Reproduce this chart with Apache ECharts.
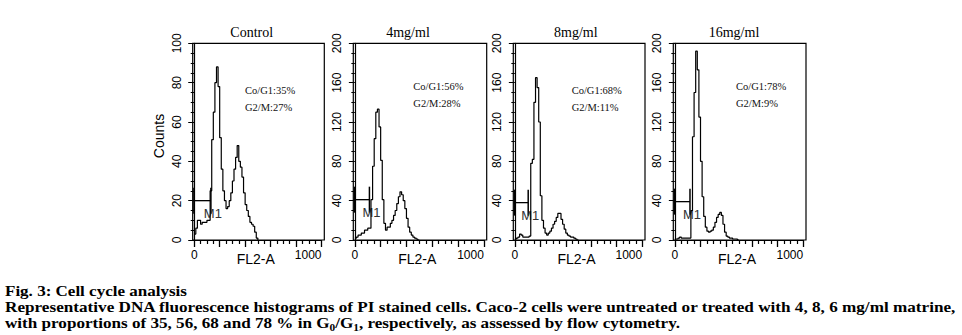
<!DOCTYPE html>
<html><head><meta charset="utf-8">
<script src="https://cdn.jsdelivr.net/npm/echarts@6/dist/echarts.min.js"></script>
<style>html,body{margin:0;padding:0;background:#fff}#c{width:962px;height:335px}</style>
</head><body><div id="c"></div>
<script>
// ---------- data ----------
const panelTitles = ['Control', '4mg/ml', '8mg/ml', '16mg/ml'];
const g1Labels = ['Co/G1:35%', 'Co/G1:56%', 'Co/G1:68%', 'Co/G1:78%'];
const g2mLabels = ['G2/M:27%', 'G2/M:28%', 'G2/M:11%', 'G2/M:9%'];
const yAxisName = 'Counts';
const xAxisName = 'FL2-A';
const yMax = [100, 200, 200, 200];
const yStep = [20, 40, 40, 40];
const xTickLabels = [0, 1000];
const xMax = 1000, xStep = 200;
// histogram bin left edges (FL2-A channel)
const channels = [0, 12.5, 25, 37.5, 50, 62.5, 75, 87.5, 100, 112.5, 125, 137.5, 150, 162.5, 175, 187.5, 200, 212.5, 225, 237.5, 250, 262.5, 275, 287.5, 300, 312.5, 325, 337.5, 350, 362.5, 375, 387.5, 400, 412.5, 425, 437.5, 450, 462.5, 475, 487.5, 500];
const countsControl = [3, 6, 10, 10, 8, 9, 9, 9, 10, 10, 25, 51, 65, 80, 88, 78, 52, 36, 25, 20, 16, 17, 20, 24, 30, 36, 42, 48, 40, 37, 32, 24, 18, 15, 12, 9, 8, 7, 4, 1, 0];
const counts4 = [2, 3, 5, 5, 7, 7, 10, 10, 12, 12, 41, 75, 103, 130, 133, 115, 81, 41, 17, 10, 13, 13, 17, 20, 25, 30, 37, 44, 49, 46, 40, 32, 22, 13, 8, 5, 3, 2, 1, 0, 0];
const counts8 = [1, 2, 3, 6, 5, 3, 3, 3, 3, 4, 78, 82, 140, 165, 155, 120, 45, 20, 12, 7, 5, 7, 9, 12, 16, 19, 23, 27, 27, 21, 16, 11, 7, 5, 4, 3, 3, 2, 1, 0, 0];
const counts16 = [1, 1, 2, 3, 2, 2, 2, 2, 2, 2, 30, 105, 150, 192, 173, 125, 80, 44, 24, 13, 9, 8, 9, 10, 13, 18, 23, 26, 28, 25, 16, 8, 4, 3, 2, 2, 1, 1, 1, 0, 0];
const gateName = 'M1';
const gateStart = [-8, -8, -8, -8];
const gateEnd = [131, 113, 105, 118];
const gateLevel = [20, 41, 38, 39];
const captionTitle = 'Fig. 3: Cell cycle analysis';
const captionLine2 = 'Representative DNA fluorescence histograms of PI stained cells. Caco-2 cells were untreated or treated with 4, 8, 6 mg/ml matrine,';
const captionLine3 = [['with proportions of 35, 56, 68 and 78 % in G', 0], ['0', 1], ['/G', 0], ['1', 1], [', respectively, as assessed by flow cytometry.', 0]];

// ---------- layout ----------
const allCounts = [countsControl, counts4, counts8, counts16];
const boxLeft = [192.7, 353.3, 513.3, 673.3];
const boxWidth = [131.6, 133.4, 131.7, 132.7];
const boxTop = 43.3, boxHeight = 196.7;
const padUnits = 12, spanUnits = 1034;   // box spans channel -12 .. 1022
const titleX = [251.7, 408, 575.8, 734];
const annX = [245, 413.3, 571.7, 736];
const annY1 = [90, 86.7, 90, 86.7];
const annY2 = [107, 103.7, 107, 103.7];

const chart = echarts.init(document.getElementById('c'), null, {renderer: 'svg'});
const grids = [], xAxes = [], yAxes = [], series = [], graphics = [];
const SANS = '"Liberation Sans", Arial, sans-serif';
const SERIF = '"Liberation Serif", "Times New Roman", serif';

for (let i = 0; i < 4; i++) {
  const pxPerUnit = boxWidth[i] / spanUnits;
  const gLeft = boxLeft[i] + padUnits * pxPerUnit;
  grids.push({left: gLeft, top: boxTop, width: xMax * pxPerUnit, height: boxHeight, show: false});
  graphics.push({type: 'rect', silent: true, z: 10,
    shape: {x: boxLeft[i], y: boxTop, width: boxWidth[i], height: boxHeight},
    style: {fill: 'none', stroke: '#000', lineWidth: 1.2}});
  xAxes.push({type: 'value', gridIndex: i, min: 0, max: xMax, interval: xStep,
    axisLine: {show: true, lineStyle: {color: '#000', width: 1.2}},
    axisTick: {show: true, length: 7, lineStyle: {color: '#000', width: 1.3}},
    minorTick: {show: true, splitNumber: 4, length: 4, lineStyle: {color: '#000', width: 1.2}},
    axisLabel: {show: true, showMinLabel: true, showMaxLabel: true,
      formatter: function (v) { return xTickLabels.indexOf(v) >= 0 ? String(v) : ''; },
      fontFamily: SANS, fontSize: 12, color: '#000', margin: 9, alignMaxLabel: 'right'},
    splitLine: {show: false}, minorSplitLine: {show: false}});
  yAxes.push({type: 'value', gridIndex: i, min: 0, max: yMax[i], interval: yStep[i], offset: padUnits * pxPerUnit,
    axisLine: {show: true, lineStyle: {color: '#000', width: 1.2}},
    axisTick: {show: true, length: 6, lineStyle: {color: '#000', width: 1}},
    minorTick: {show: true, splitNumber: 4, length: 3.5, lineStyle: {color: '#000', width: 1}},
    axisLabel: {rotate: 90, fontFamily: SANS, fontSize: 12, color: '#000', margin: 10},
    splitLine: {show: false}, minorSplitLine: {show: false}});
  series.push({type: 'line', xAxisIndex: i, yAxisIndex: i, step: 'end', symbol: 'none',
    lineStyle: {color: '#000', width: 1.2}, data: channels.map((c, k) => [c, allCounts[i][k]]), silent: true});
  series.push({type: 'custom', xAxisIndex: i, yAxisIndex: i, silent: true, clip: false,
    data: [[gateStart[i], gateEnd[i], gateLevel[i]]],
    renderItem: function (params, api) {
      const p0 = api.coord([api.value(0), api.value(2)]);
      const p1 = api.coord([api.value(1), api.value(2)]);
      const h = 13;
      return {type: 'group', children: [
        {type: 'line', shape: {x1: p0[0], y1: p0[1], x2: p1[0], y2: p1[1]}, style: {stroke: '#000', lineWidth: 1.3}},
        {type: 'line', shape: {x1: p0[0] + 0.7, y1: p0[1] - h, x2: p0[0] + 0.7, y2: p0[1] + h}, style: {stroke: '#000', lineWidth: 1.5}},
        {type: 'line', shape: {x1: p1[0], y1: p1[1] - h, x2: p1[0], y2: p1[1] + h}, style: {stroke: '#000', lineWidth: 1.5}},
        {type: 'text', x: p1[0] + 2, y: p1[1] + 12.5, style: {text: gateName, fontFamily: SANS, fontSize: 13, fill: '#333', align: 'center', verticalAlign: 'middle'}}
      ]};
    }});
  graphics.push({type: 'text', x: titleX[i], y: 32.5, silent: true,
    style: {text: panelTitles[i], fontFamily: SERIF, fontSize: 14, fill: '#000', align: 'center', verticalAlign: 'middle'}});
  graphics.push({type: 'text', x: annX[i], y: annY1[i], silent: true,
    style: {text: g1Labels[i], fontFamily: SERIF, fontSize: 10.5, fill: '#111', align: 'left', verticalAlign: 'middle'}});
  graphics.push({type: 'text', x: annX[i], y: annY2[i], silent: true,
    style: {text: g2mLabels[i], fontFamily: SERIF, fontSize: 10.5, fill: '#111', align: 'left', verticalAlign: 'middle'}});
  graphics.push({type: 'text', x: boxLeft[i] + boxWidth[i] / 2 - 2.7, y: 259, silent: true,
    style: {text: xAxisName, fontFamily: SANS, fontSize: 14, fill: '#000', align: 'center', verticalAlign: 'middle'}});
}
graphics.push({type: 'text', x: 159, y: 136, rotation: Math.PI / 2, silent: true,
  style: {text: yAxisName, fontFamily: SANS, fontSize: 14, fill: '#000', align: 'center', verticalAlign: 'middle'}});

// caption (bold serif, fitted to the reference line widths)
const mctx = document.createElement('canvas').getContext('2d');
function tw(text, size) { mctx.font = 'bold ' + size + 'px "Liberation Serif"'; return mctx.measureText(text).width; }
const capSize = 15, subSize = 10;
function capLine(text, y, target) {
  const w = tw(text, capSize);
  return {type: 'group', x: 5, y: y, scaleX: target / w, silent: true, children: [
    {type: 'text', x: 0, y: 0, style: {text: text, fontFamily: SERIF, fontWeight: 'bold', fontSize: capSize, fill: '#000', verticalAlign: 'middle'}}]};
}
graphics.push(capLine(captionTitle, 291, 182));
graphics.push(capLine(captionLine2, 307, 952));
(function () {
  let off = 0; const kids = [];
  captionLine3.forEach(function (p) {
    const sz = p[1] ? subSize : capSize;
    kids.push({type: 'text', x: off, y: p[1] ? 4 : 0, style: {text: p[0], fontFamily: SERIF, fontWeight: 'bold', fontSize: sz, fill: '#000', verticalAlign: 'middle'}});
    off += tw(p[0], sz);
  });
  graphics.push({type: 'group', x: 5, y: 323, scaleX: 675 / off, silent: true, children: kids});
})();

chart.setOption({animation: false, grid: grids, xAxis: xAxes, yAxis: yAxes, series: series, graphic: graphics});
</script></body></html>
